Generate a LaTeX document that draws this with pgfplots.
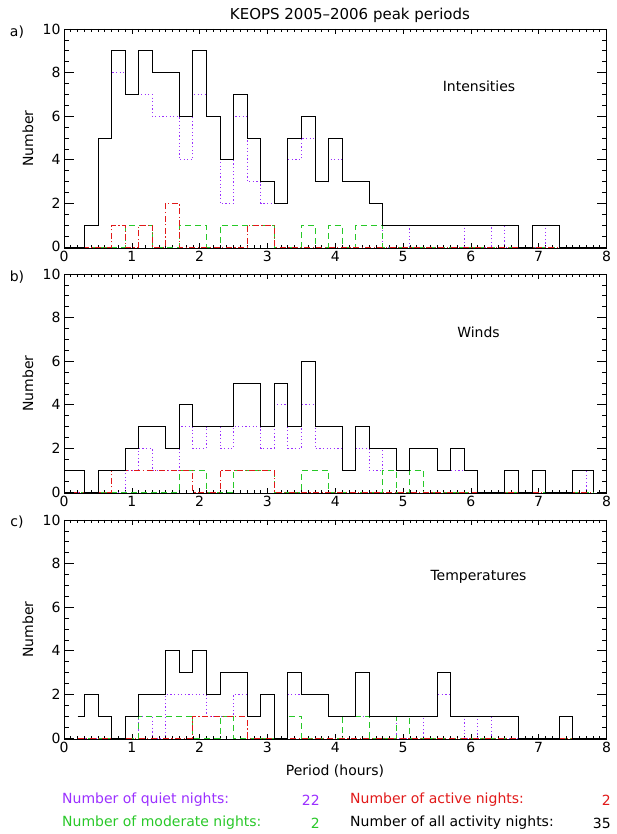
\documentclass[border=0pt]{standalone}
\usepackage{fontspec}
\setmainfont{DejaVu Sans}
\usepackage{pgfplots}
\pgfplotsset{compat=1.18}
\definecolor{qpurple}{RGB}{155,48,255}
\definecolor{ared}{RGB}{225,25,25}
\definecolor{mgreen}{RGB}{40,200,40}
\newcommand{\f}{\fontsize{14}{16}\selectfont}
\pgfplotsset{
  base/.style={scale only axis, width=542.5pt, height=219pt, xmin=0, xmax=8, ymin=-0.05, ymax=10,
    anchor=south west, axis line style={line width=0.8pt}, tick align=inside,
    /pgf/number format/assume math mode=true, ticklabel style={font=\f},
    every tick/.style={black, line width=0.6pt}},
  xpanel/.style={base, xtick={0,...,8}, minor x tick num=9, xtick pos=both, xticklabel pos=lower,
    ytick=\empty, major tick length=5pt, minor tick length=3pt},
  ypanel/.style={base, xtick=\empty, ytick={0,2,...,10}, minor y tick num=3, ytick pos=both,
    yticklabel pos=left, major tick length=10pt, minor tick length=5pt},
  qs/.style={qpurple, line width=0.8pt, dash pattern=on 1.2pt off 2.4pt, const plot},
  as/.style={ared, line width=0.8pt, dash pattern=on 6pt off 2.5pt on 1.2pt off 2.5pt, const plot},
  ms/.style={mgreen, line width=0.8pt, dash pattern=on 6pt off 4pt, const plot},
  ls/.style={black, line width=0.8pt, const plot},
}
\begin{document}
\begin{tikzpicture}[x=1pt,y=1pt]
\useasboundingbox (0pt,0pt) rectangle (617pt,834pt);
% ---------------- panel a
\begin{axis}[xpanel, at={(64pt,586pt)}]
\addplot[qs] coordinates {(0.1,0)(0.3,1)(0.5,5)(0.7,8)(0.9,7)(1.3,6)(1.7,4)(1.9,7)(2.1,6)(2.3,2)(2.5,6)(2.7,3)(2.9,2)(3.3,4)(3.5,5)(3.7,3)(3.9,4)(4.1,3)(4.5,2)(4.7,0)(5.1,1)(5.9,0)(6.3,1)(6.5,0)(7.1,1)(7.3,0)(7.9,0)};
\addplot[ms] coordinates {(0.1,0)(0.9,1)(1.3,0)(1.7,1)(2.1,0)(2.3,1)(3.1,0)(3.5,1)(3.7,0)(3.9,1)(4.1,0)(4.3,1)(4.7,0)(7.9,0)};
\addplot[as] coordinates {(0.1,0)(0.7,1)(0.9,0)(1.1,1)(1.3,0)(1.5,2)(1.7,0)(2.7,1)(3.1,0)(7.9,0)};
\addplot[ls] coordinates {(0.1,0)(0.3,1)(0.5,5)(0.7,9)(0.9,7)(1.1,9)(1.3,8)(1.7,6)(1.9,9)(2.1,6)(2.3,4)(2.5,7)(2.7,5)(2.9,3)(3.1,2)(3.3,5)(3.5,6)(3.7,3)(3.9,5)(4.1,3)(4.5,2)(4.7,1)(6.7,0)(6.9,1)(7.3,0)(7.9,0)};
\end{axis}
\begin{axis}[ypanel, at={(64pt,586pt)}]
\end{axis}
% ---------------- panel b
\begin{axis}[xpanel, at={(64pt,341pt)}]
\addplot[qs] coordinates {(0.1,0)(0.9,1)(1.1,2)(1.3,1)(1.7,3)(1.9,2)(2.1,3)(2.3,2)(2.5,3)(2.9,2)(3.1,4)(3.3,2)(3.5,4)(3.7,2)(4.1,1)(4.3,2)(4.5,1)(4.7,2)(4.9,1)(5.1,2)(5.5,1)(6.1,0)(7.7,1)(7.8,0)};
\addplot[ms] coordinates {(0.1,0)(1.7,1)(2.1,0)(2.5,1)(3.1,0)(3.5,1)(3.9,0)(4.7,1)(4.9,0)(5.1,1)(5.3,0)(7.8,0)};
\addplot[as] coordinates {(0.1,0)(0.7,1)(1.9,0)(2.3,1)(3.1,0)(7.8,0)};
\addplot[ls] coordinates {(0.05,1)(0.3,0)(0.5,1)(0.9,2)(1.1,3)(1.5,2)(1.7,4)(1.9,3)(2.5,5)(2.9,3)(3.1,5)(3.3,3)(3.5,6)(3.7,3)(4.1,1)(4.3,3)(4.5,2)(4.9,1)(5.1,2)(5.5,1)(5.7,2)(5.9,1)(6.1,0)(6.5,1)(6.7,0)(6.9,1)(7.1,0)(7.5,1)(7.8,0)};
\end{axis}
\begin{axis}[ypanel, at={(64pt,341pt)}]
\end{axis}
% ---------------- panel c
\begin{axis}[xpanel, at={(64pt,95pt)}]
\addplot[qs] coordinates {(0.2,0)(1.1,1)(1.3,0)(1.5,2)(2.1,1)(2.5,2)(2.7,1)(2.9,2)(3.1,0)(3.3,2)(3.9,1)(4.9,0)(5.3,1)(5.5,2)(5.7,1)(5.9,0)(6.1,1)(6.3,0)(7.9,0)};
\addplot[ms] coordinates {(0.2,0)(1.1,1)(1.9,0)(2.3,1)(2.5,0)(3.3,1)(3.5,0)(4.1,1)(4.5,0)(4.9,1)(5.1,0)(7.9,0)};
\addplot[as] coordinates {(0.2,0)(1.9,1)(2.7,0)(7.9,0)};
\addplot[ls] coordinates {(0.2,1)(0.3,2)(0.5,1)(0.7,0)(0.9,1)(1.1,2)(1.5,4)(1.7,3)(1.9,4)(2.1,2)(2.3,3)(2.7,1)(2.9,2)(3.1,0)(3.3,3)(3.5,2)(3.9,1)(4.3,3)(4.5,1)(5.5,3)(5.7,1)(6.7,0)(7.3,1)(7.5,0)(7.9,0)};
\end{axis}
\begin{axis}[ypanel, at={(64pt,95pt)}]
\end{axis}
% ---------------- texts
\node[font=\fontsize{15}{17}\selectfont] at (350pt,819pt) {KEOPS 2005--2006 peak periods};
\node[font=\f] at (17pt,802pt) {a)};
\node[font=\f] at (17pt,557pt) {b)};
\node[font=\f] at (17pt,312pt) {c)};
\node[font=\f, rotate=90] at (28pt,695.5pt) {Number};
\node[font=\f, rotate=90] at (28pt,450.3pt) {Number};
\node[font=\f, rotate=90] at (28pt,204.3pt) {Number};
\node[font=\f] at (335pt,63pt) {Period (hours)};
\node[font=\f] at (479pt,748pt) {Intensities};
\node[font=\f] at (478.5pt,502pt) {Winds};
\node[font=\f] at (478.5pt,257pt) {Temperatures};
\node[font=\f, text=qpurple, anchor=west, inner sep=0pt] at (62pt,34pt) {Number of quiet nights:};
\node[font=\f, text=qpurple, anchor=east, inner sep=0pt] at (320pt,34pt) {22};
\node[font=\f, text=ared, anchor=west, inner sep=0pt] at (350pt,34pt) {Number of active nights:};
\node[font=\f, text=ared, anchor=east, inner sep=0pt] at (611pt,34pt) {2};
\node[font=\f, text=mgreen, anchor=west, inner sep=0pt] at (62pt,11pt) {Number of moderate nights:};
\node[font=\f, text=mgreen, anchor=east, inner sep=0pt] at (320pt,11pt) {2};
\node[font=\f, anchor=west, inner sep=0pt] at (350pt,11pt) {Number of all activity nights:};
\node[font=\f, anchor=east, inner sep=0pt] at (611pt,11pt) {35};
\end{tikzpicture}
\end{document}
